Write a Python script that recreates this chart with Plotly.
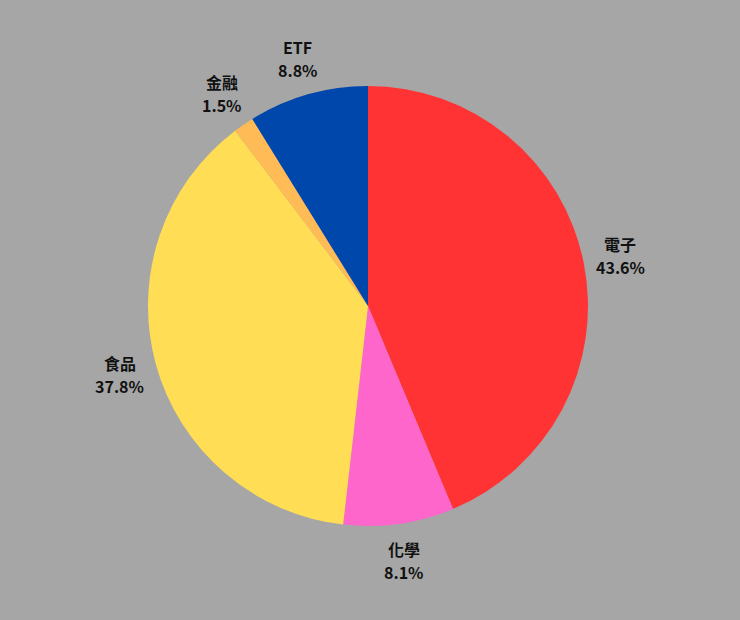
import math
import plotly.graph_objects as go

labels = ["電子", "化學", "食品", "金融", "ETF"]
shares = [43.6, 8.1, 37.8, 1.5, 8.8]
colors = ["#FF3333", "#FF66CC", "#FFDD55", "#FFBB55", "#0047AB"]

_BG = "#A6A6A6"
_TEXT = "#111111"
_FONT = "Noto Sans CJK TC"

W, H = 740, 620
M = dict(l=0, r=4, t=86, b=94)
LABEL_DIST = 1.17
LINE_GAP = 23  # px between name line and percent line

fig = go.Figure(go.Pie(
    labels=labels,
    values=shares,
    sort=False,
    direction="clockwise",
    rotation=0,
    marker=dict(colors=colors, line=dict(width=0)),
    textinfo="none",
    showlegend=False,
    hoverinfo="label+value",
))

# labels outside each slice, centred on the slice mid-angle
pw, ph = W - M["l"] - M["r"], H - M["t"] - M["b"]
radius = min(pw, ph) / 2
total = sum(shares)
cum = 0
for lab, v in zip(labels, shares):
    mid = (cum + v / 2) / total * 2 * math.pi
    cum += v
    dx = LABEL_DIST * radius * math.sin(mid)
    dy = LABEL_DIST * radius * math.cos(mid)
    for txt, off in [(lab, LINE_GAP / 2), (f"{v:.1f}%", -LINE_GAP / 2)]:
        fig.add_annotation(
            x=0.5 + dx / pw, y=0.5 + (dy + off) / ph,
            xref="paper", yref="paper",
            text=f"<b>{txt}</b>",
            showarrow=False,
            font=dict(size=16, color=_TEXT, family=_FONT),
            xanchor="center", yanchor="middle",
        )

fig.update_layout(
    width=W, height=H,
    paper_bgcolor=_BG,
    plot_bgcolor=_BG,
    margin=M,
    font=dict(family=_FONT, color=_TEXT),
)
fig.write_html(
    "out.html",
    config={"displayModeBar": False},
    post_script="document.body.style.margin='0';",
)
